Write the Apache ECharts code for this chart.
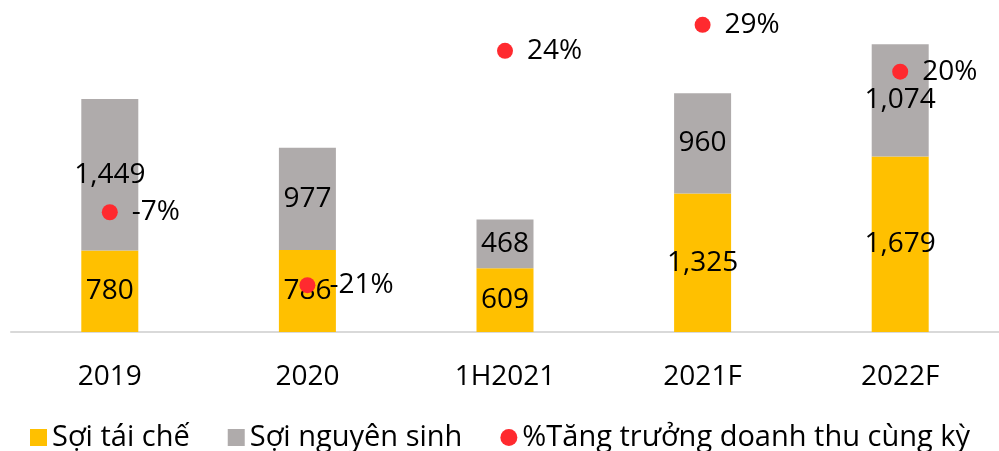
<!DOCTYPE html>
<html>
<head>
<meta charset="utf-8">
<script src="https://cdn.jsdelivr.net/npm/echarts@6/dist/echarts.min.js"></script>
<style>
  html, body { margin: 0; padding: 0; background: #fff; }
  #chart { width: 999px; height: 451px; }
</style>
</head>
<body>
<div id="chart"></div>
<script>
const categories = ["2019", "2020", "1H2021", "2021F", "2022F"];
const recycled = [780, 786, 609, 1325, 1679];
const virgin = [1449, 977, 468, 960, 1074];
const growth = [-7, -21, 24, 29, 20];

const FONT = "'Open Sans', 'Noto Sans', sans-serif";
const fmt = (v) => v.toLocaleString("en-US");

const chart = echarts.init(document.getElementById("chart"));
chart.setOption({
  animation: false,
  textStyle: { fontFamily: FONT },
  grid: { left: 11, width: 995, top: 17, bottom: 119 },
  legend: {
    left: 25,
    top: 418,
    itemWidth: 17,
    itemHeight: 17,
    itemGap: 38,
    textStyle: { fontSize: 29, color: "#000", fontFamily: FONT },
    data: [
      { name: "Sợi tái chế", icon: "rect" },
      { name: "Sợi nguyên sinh", icon: "rect" },
      { name: "%Tăng trưởng doanh thu cùng kỳ", icon: "circle" }
    ]
  },
  xAxis: {
    type: "category",
    data: categories,
    axisLine: { lineStyle: { color: "#D9D9D9", width: 2 } },
    axisTick: { length: 10, lineStyle: { color: "#D9D9D9", width: 2 } },
    axisLabel: { fontSize: 28, color: "#000", margin: 31, fontFamily: FONT }
  },
  yAxis: [
    { type: "value", min: 0, max: 3015, show: false, splitLine: { show: false } },
    { type: "value", min: -30, max: 30.5, show: false, splitLine: { show: false } }
  ],
  series: [
    {
      name: "Sợi tái chế",
      type: "bar",
      stack: "rev",
      barWidth: 57,
      data: recycled,
      itemStyle: { color: "#FFC000" },
      label: {
        show: true, position: "inside", color: "#000", fontSize: 28,
        fontFamily: FONT, formatter: (p) => fmt(p.value)
      }
    },
    {
      name: "Sợi nguyên sinh",
      type: "bar",
      stack: "rev",
      barWidth: 57,
      data: virgin,
      itemStyle: { color: "#AFABAB" },
      label: {
        show: true, position: "inside", color: "#000", fontSize: 28,
        fontFamily: FONT, formatter: (p) => fmt(p.value)
      }
    },
    {
      name: "%Tăng trưởng doanh thu cùng kỳ",
      type: "scatter",
      yAxisIndex: 1,
      symbolSize: 16,
      data: growth,
      itemStyle: { color: "#FF2A2F", opacity: 1 },
      z: 5,
      label: {
        show: true, position: "right", distance: 14, color: "#000", fontSize: 28,
        fontFamily: FONT, formatter: (p) => p.value + "%"
      }
    }
  ]
});
</script>
</body>
</html>
